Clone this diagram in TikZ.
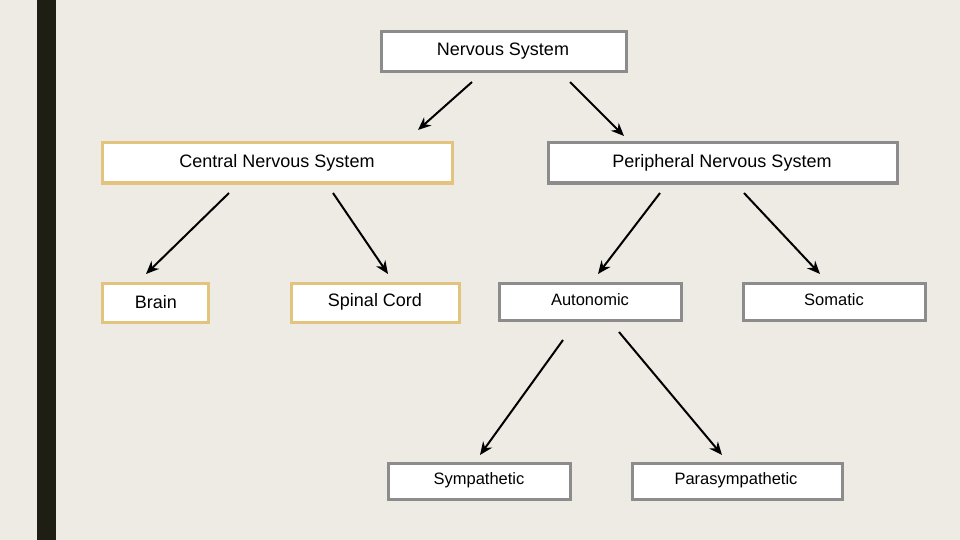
\documentclass[tikz,border=0pt]{standalone}
\usepackage{fontspec}
\setmainfont{Liberation Sans}
\usetikzlibrary{arrows.meta}
\definecolor{bg}{HTML}{EEEBE4}
\definecolor{bar}{HTML}{1E1E14}
\definecolor{gold}{HTML}{E3C47E}
\definecolor{gr}{HTML}{8C8C8C}
\begin{document}
\begin{tikzpicture}[x=1pt,y=-1pt,
 box/.style={draw=#1,line width=3pt,fill=white},
 lbl/.style={font=\fontsize{18}{20}\selectfont,anchor=center,yshift=-2pt},
 sl/.style={font=\fontsize{16.5}{18}\selectfont,anchor=center,yshift=-2pt},
 arr/.style={line width=2pt,-{Stealth[length=13pt,width=11pt]}}]
\fill[bg] (0,0) rectangle (960,540);
\fill[bar] (37,0) rectangle (56,540);
\path[box=gr] (381,32) rectangle (626,72);
\node[lbl] (ns) at (503,49) {Nervous System};
\path[box=gold] (102,143) rectangle (452,183);
\node[lbl] (cns) at (277,161) {Central Nervous System};
\path[box=gr] (548,143) rectangle (897,183);
\node[lbl] (pns) at (722,161) {Peripheral Nervous System};
\path[box=gold] (102,283) rectangle (208,322);
\node[lbl] (br) at (156,300) {Brain};
\path[box=gold] (291,283) rectangle (459,322);
\node[lbl] (sc) at (375,300) {Spinal Cord};
\path[box=gr] (499,283) rectangle (681,320);
\node[sl] (au) at (590,298) {Autonomic};
\path[box=gr] (743,283) rectangle (925,320);
\node[sl] (so) at (834,298) {Somatic};
\path[box=gr] (388,463) rectangle (570,499);
\node[sl] (sy) at (479,478) {Sympathetic};
\path[box=gr] (632,463) rectangle (842,499);
\node[sl] (pa) at (736,478) {Parasympathetic};
\foreach \n/\a/\b/\c/\d in {1/472/82/418/130, 2/570/82/624/136, 3/229/193/146/274, 4/333/193/388/274, 5/660/193/598/274, 6/744/193/820/274, 7/563/340/480/455, 8/619/332/722/455}{
 \coordinate (s\n) at (\a,\b); \coordinate (e\n) at (\c,\d);
 \draw[arr] (s\n) -- (e\n);}
\end{tikzpicture}
\end{document}
